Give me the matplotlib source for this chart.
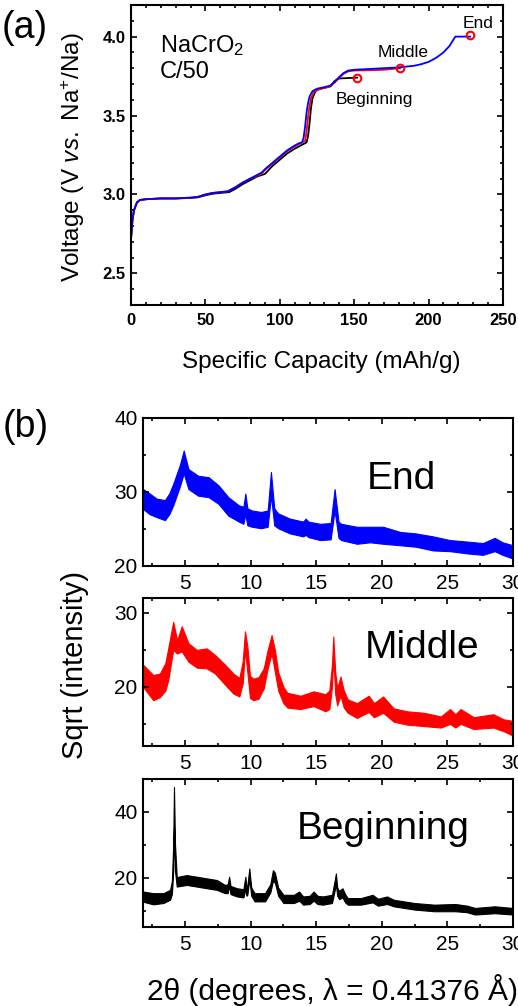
import matplotlib
matplotlib.use('Agg')
import matplotlib.pyplot as plt
from matplotlib.ticker import MultipleLocator

plt.rcParams['font.family'] = ['Liberation Sans', 'DejaVu Sans']
plt.rcParams['mathtext.fontset'] = 'custom'
plt.rcParams['mathtext.rm'] = 'Liberation Sans'
plt.rcParams['mathtext.it'] = 'Liberation Sans:italic'
plt.rcParams['mathtext.bf'] = 'Liberation Sans:bold'

# ---- (a) voltage profiles: capacity (mAh/g) vs voltage (V) ----
cap_beg = [0, 1, 2, 4, 6, 10, 20, 30, 40, 45, 50, 55, 60, 66, 70, 75, 80, 85, 90, 92, 95,
           100, 105, 110, 115, 118, 119, 120, 121, 122, 124, 127, 130, 134, 137, 140, 152]
v_beg = [2.72, 2.84, 2.90, 2.95, 2.965, 2.97, 2.975, 2.975, 2.978, 2.982, 2.995, 3.005, 3.01,
         3.015, 3.035, 3.065, 3.09, 3.115, 3.13, 3.15, 3.18, 3.22, 3.26, 3.29, 3.315, 3.33,
         3.37, 3.45, 3.55, 3.61, 3.655, 3.67, 3.675, 3.685, 3.72, 3.735, 3.74]

cap_mid = [0, 1, 2, 4, 6, 10, 20, 30, 40, 45, 50, 55, 60, 65, 70, 75, 80, 85, 88, 90, 95, 100,
           105, 110, 113, 115, 117, 118, 119, 120, 121, 123, 126, 130, 134, 137, 140, 143, 146,
           150, 160, 170, 181]
v_mid = [2.72, 2.84, 2.90, 2.95, 2.965, 2.97, 2.975, 2.975, 2.98, 2.985, 3.0, 3.01, 3.015, 3.02,
         3.045, 3.075, 3.10, 3.12, 3.135, 3.155, 3.195, 3.235, 3.275, 3.305, 3.32, 3.33, 3.34,
         3.40, 3.49, 3.56, 3.61, 3.65, 3.665, 3.675, 3.685, 3.71, 3.74, 3.765, 3.78, 3.785,
         3.787, 3.79, 3.80]

cap_end = [0, 1, 2, 4, 6, 10, 20, 30, 40, 45, 50, 55, 60, 65, 70, 75, 80, 85, 88, 90, 95, 100,
           105, 110, 113, 115, 116, 117, 118, 119, 120, 122, 125, 130, 134, 137, 140, 143, 146,
           150, 160, 170, 180, 190, 195, 200, 205, 210, 214, 217, 218, 228]
v_end = [2.72, 2.84, 2.90, 2.95, 2.965, 2.97, 2.975, 2.975, 2.98, 2.985, 3.0, 3.01, 3.015, 3.02,
         3.045, 3.075, 3.10, 3.125, 3.14, 3.16, 3.20, 3.24, 3.28, 3.31, 3.325, 3.33, 3.36, 3.43,
         3.52, 3.58, 3.62, 3.655, 3.67, 3.68, 3.69, 3.715, 3.745, 3.77, 3.785, 3.79, 3.795,
         3.80, 3.805, 3.815, 3.825, 3.84, 3.865, 3.90, 3.94, 3.985, 4.0, 4.0]

mark_cap = [152, 181, 228]
mark_v = [3.735, 3.80, 4.01]

# ---- (b) XRD patterns: 2theta, upper / lower edge of the noisy band ----
tt_end = [1.8, 2.3, 2.84, 3.47, 3.8, 4.1, 4.6, 4.9, 5.26, 6.0, 6.8, 7.55, 8.3, 9.1, 9.45, 9.6,
          9.75, 10.1, 10.8, 11.3, 11.55, 11.8, 12.1, 13.0, 14.0, 14.2, 14.4, 15.3, 16.1, 16.4,
          16.7, 16.9, 18.1, 19.1, 20.1, 21.4, 22.6, 23.9, 25.2, 26.5, 27.7, 28.6, 29.2, 30.0]
hi_end = [30.4, 29.8, 29.1, 28.9, 29.8, 31.1, 33.6, 35.6, 33.1, 32.2, 32.0, 30.9, 29.3, 28.2,
          28.0, 29.8, 27.8, 27.5, 27.3, 27.5, 32.7, 27.8, 27.1, 26.4, 26.0, 26.4, 26.0, 25.7,
          25.8, 30.4, 26.0, 25.7, 25.3, 25.3, 25.3, 24.6, 24.4, 24.0, 23.5, 23.3, 23.1, 23.8,
          23.2, 22.8]
lo_end = [27.7, 27.0, 26.6, 26.2, 27.0, 28.2, 30.7, 32.5, 30.4, 29.5, 29.3, 28.4, 26.8, 26.0,
          25.7, 27.0, 25.5, 25.3, 25.1, 25.3, 29.5, 25.5, 25.1, 24.4, 24.0, 24.2, 23.9, 23.5,
          23.6, 27.5, 23.8, 23.5, 23.0, 23.2, 23.0, 22.8, 22.6, 22.1, 22.0, 21.7, 21.5, 22.0,
          21.5, 21.0]

tt_mid = [1.8, 2.58, 3.08, 3.5, 3.72, 4.1, 4.4, 4.75, 5.26, 5.9, 6.65, 7.29, 8.05, 8.68, 9.14,
          9.4, 9.57, 9.75, 9.95, 10.2, 10.6, 11.0, 11.3, 11.6, 11.85, 12.1, 12.5, 12.8, 13.8,
          14.8, 15.7, 16.0, 16.2, 16.3, 16.45, 16.6, 16.85, 17.1, 17.4, 18.1, 19.0, 19.4, 20.1,
          20.9, 21.9, 23.2, 24.5, 25.2, 25.6, 26.0, 27.0, 28.5, 29.3, 30.0]
hi_mid = [23.0, 21.6, 21.8, 23.2, 25.2, 28.8, 26.3, 28.2, 25.9, 25.0, 25.2, 24.3, 23.0, 21.8,
          21.2, 23.5, 27.5, 25.5, 21.5, 21.1, 21.3, 22.5, 25.0, 27.0, 25.0, 22.0, 20.0, 19.2,
          18.8, 19.4, 19.0, 19.5, 23.0, 26.8, 22.0, 19.8, 21.4, 19.5, 18.3, 17.8, 18.8, 17.8,
          18.7, 17.1, 16.7, 16.5, 16.0, 17.0, 16.3, 17.0, 15.9, 16.3, 15.6, 15.4]
lo_mid = [20.0, 18.2, 18.6, 19.5, 20.9, 25.0, 24.5, 24.8, 23.4, 22.6, 22.5, 21.8, 20.3, 19.1,
          18.7, 20.5, 25.0, 22.0, 18.5, 18.2, 18.4, 19.8, 22.5, 24.5, 22.0, 19.5, 17.8, 17.2,
          17.0, 17.4, 16.7, 17.0, 20.0, 24.0, 19.0, 17.5, 18.8, 17.2, 16.5, 15.8, 16.6, 15.9,
          16.5, 15.3, 14.9, 14.7, 14.5, 15.0, 14.5, 15.0, 14.3, 14.5, 14.0, 13.4]

tt_beg = [1.8, 2.58, 3.35, 3.86, 4.0, 4.1, 4.16, 4.24, 4.37, 5.13, 5.9, 6.65, 7.42, 8.05, 8.25,
          8.36, 8.47, 8.95, 9.45, 9.6, 9.68, 9.75, 9.9, 10.05, 10.3, 11.1, 11.5, 11.7, 11.85,
          12.1, 12.5, 13.3, 13.7, 14.0, 14.5, 14.8, 15.1, 15.5, 16.2, 16.4, 16.5, 16.6, 16.75,
          17.0, 17.2, 17.4, 18.4, 19.3, 19.7, 20.4, 20.9, 22.5, 24.0, 25.6, 26.5, 27.1, 28.6, 30.0]
hi_beg = [15.8, 15.3, 15.3, 16.3, 19.0, 30.0, 47.6, 30.0, 20.2, 20.8, 20.3, 19.8, 19.3, 17.8,
          18.0, 20.3, 17.5, 16.8, 16.5, 20.3, 17.0, 17.5, 22.8, 17.0, 15.3, 15.3, 18.0, 22.3,
          21.5, 17.0, 14.8, 14.8, 15.8, 14.3, 14.5, 15.8, 14.5, 14.3, 14.8, 19.0, 21.3, 17.0,
          16.0, 16.8, 15.0, 13.8, 13.8, 14.8, 13.6, 14.3, 13.3, 12.3, 11.8, 12.0, 11.5, 10.8,
          11.3, 10.8]
lo_beg = [12.7, 11.9, 12.3, 13.3, 15.0, 22.0, 35.0, 22.0, 17.3, 17.8, 17.3, 16.8, 16.3, 15.3,
          15.3, 17.5, 15.0, 14.3, 14.0, 16.5, 14.5, 14.8, 19.5, 14.5, 12.8, 12.8, 15.5, 19.0,
          18.5, 14.5, 12.3, 12.3, 13.0, 11.8, 12.0, 13.0, 12.0, 11.8, 12.3, 16.0, 18.0, 14.5,
          13.5, 14.0, 12.5, 11.8, 11.8, 12.5, 11.5, 12.0, 11.3, 10.3, 9.8, 9.8, 9.5, 8.8,
          9.2, 8.8]

fig = plt.figure(figsize=(5.18, 10.06), dpi=100)


def style_axes(ax, size, bold):
    for s in ax.spines.values():
        s.set_linewidth(1.5)
    ax.tick_params(which='both', direction='in', top=True, right=True, width=1.2)
    ax.tick_params(which='major', length=4, labelsize=size)
    ax.tick_params(which='minor', length=2.2)
    if bold:
        for lab in ax.get_xticklabels() + ax.get_yticklabels():
            lab.set_fontweight('bold')


# panel (a)
ax = fig.add_axes([0.2529, 0.6968, 0.7181, 0.2982])
ax.plot(cap_beg, v_beg, color='black', lw=1.3)
ax.plot(cap_mid, v_mid, color='red', lw=1.3)
ax.plot(cap_end, v_end, color='blue', lw=1.3)
ax.plot(mark_cap, mark_v, 'o', mfc='none', mec='red', mew=1.5, ms=5.5)
ax.set_xlim(0, 250)
ax.set_ylim(2.3, 4.2)
ax.xaxis.set_major_locator(MultipleLocator(50))
ax.xaxis.set_minor_locator(MultipleLocator(10))
ax.yaxis.set_major_locator(MultipleLocator(0.5))
ax.yaxis.set_minor_locator(MultipleLocator(0.1))
ax.tick_params(axis='x', pad=6)
ax.tick_params(axis='y', pad=4)
style_axes(ax, 12, True)
ax.text(19.5, 3.905, r'NaCrO$_\mathregular{2}$', fontsize=17, va='baseline')
ax.text(19.5, 3.735, 'C/50', fontsize=17, va='baseline')
ax.text(223, 4.057, 'End', fontsize=12.5, va='baseline')
ax.text(166, 3.868, 'Middle', fontsize=12.5, va='baseline')
ax.text(137.8, 3.571, 'Beginning', fontsize=12.5, va='baseline')

fig.text(0.62, 0.640, 'Specific Capacity (mAh/g)', fontsize=17.5, ha='center', va='center')
fig.text(0.141, 0.844, r'Voltage (V $\mathit{vs.}$ Na$^\mathregular{+}$/Na)', fontsize=17.5,
         rotation=90, ha='center', va='center')
fig.text(0.048, 0.972, '(a)', fontsize=27, ha='center', va='center')

# panel (b)
panels = [
    (0.4374, tt_end, hi_end, lo_end, 'blue', (20, 40), 10, 'End', 18.86, 30.4),
    (0.2584, tt_mid, hi_mid, lo_mid, 'red', (12, 32), 10, 'Middle', 18.7, 23.9),
    (0.0785, tt_beg, hi_beg, lo_beg, 'black', (5, 50), 20, 'Beginning', 13.5, 31.8),
]
for bottom, tt, hi, lo, col, ylim, ymaj, name, tx, ty in panels:
    axb = fig.add_axes([0.2761, bottom, 0.7143, 0.1471])
    axb.fill_between(tt, lo, hi, color=col, lw=0.8, edgecolor=col)
    axb.set_xlim(1.8, 30)
    axb.set_ylim(*ylim)
    axb.xaxis.set_major_locator(MultipleLocator(5))
    axb.xaxis.set_minor_locator(MultipleLocator(2.5))
    axb.yaxis.set_major_locator(MultipleLocator(ymaj))
    axb.yaxis.set_minor_locator(MultipleLocator(ymaj / 2))
    axb.tick_params(axis='x', pad=6)
    axb.tick_params(axis='y', pad=4)
    style_axes(axb, 15, False)
    axb.text(tx, ty, name, fontsize=28, va='baseline')

fig.text(0.145, 0.339, 'Sqrt (intensity)', fontsize=21, rotation=90, ha='center', va='center')
fig.text(0.284, 0.006, '2θ (degrees, λ = 0.41376 Å)', fontsize=21.5, ha='left', va='baseline')
fig.text(0.05, 0.576, '(b)', fontsize=27, ha='center', va='center')

fig.savefig('out.png', dpi=100)
